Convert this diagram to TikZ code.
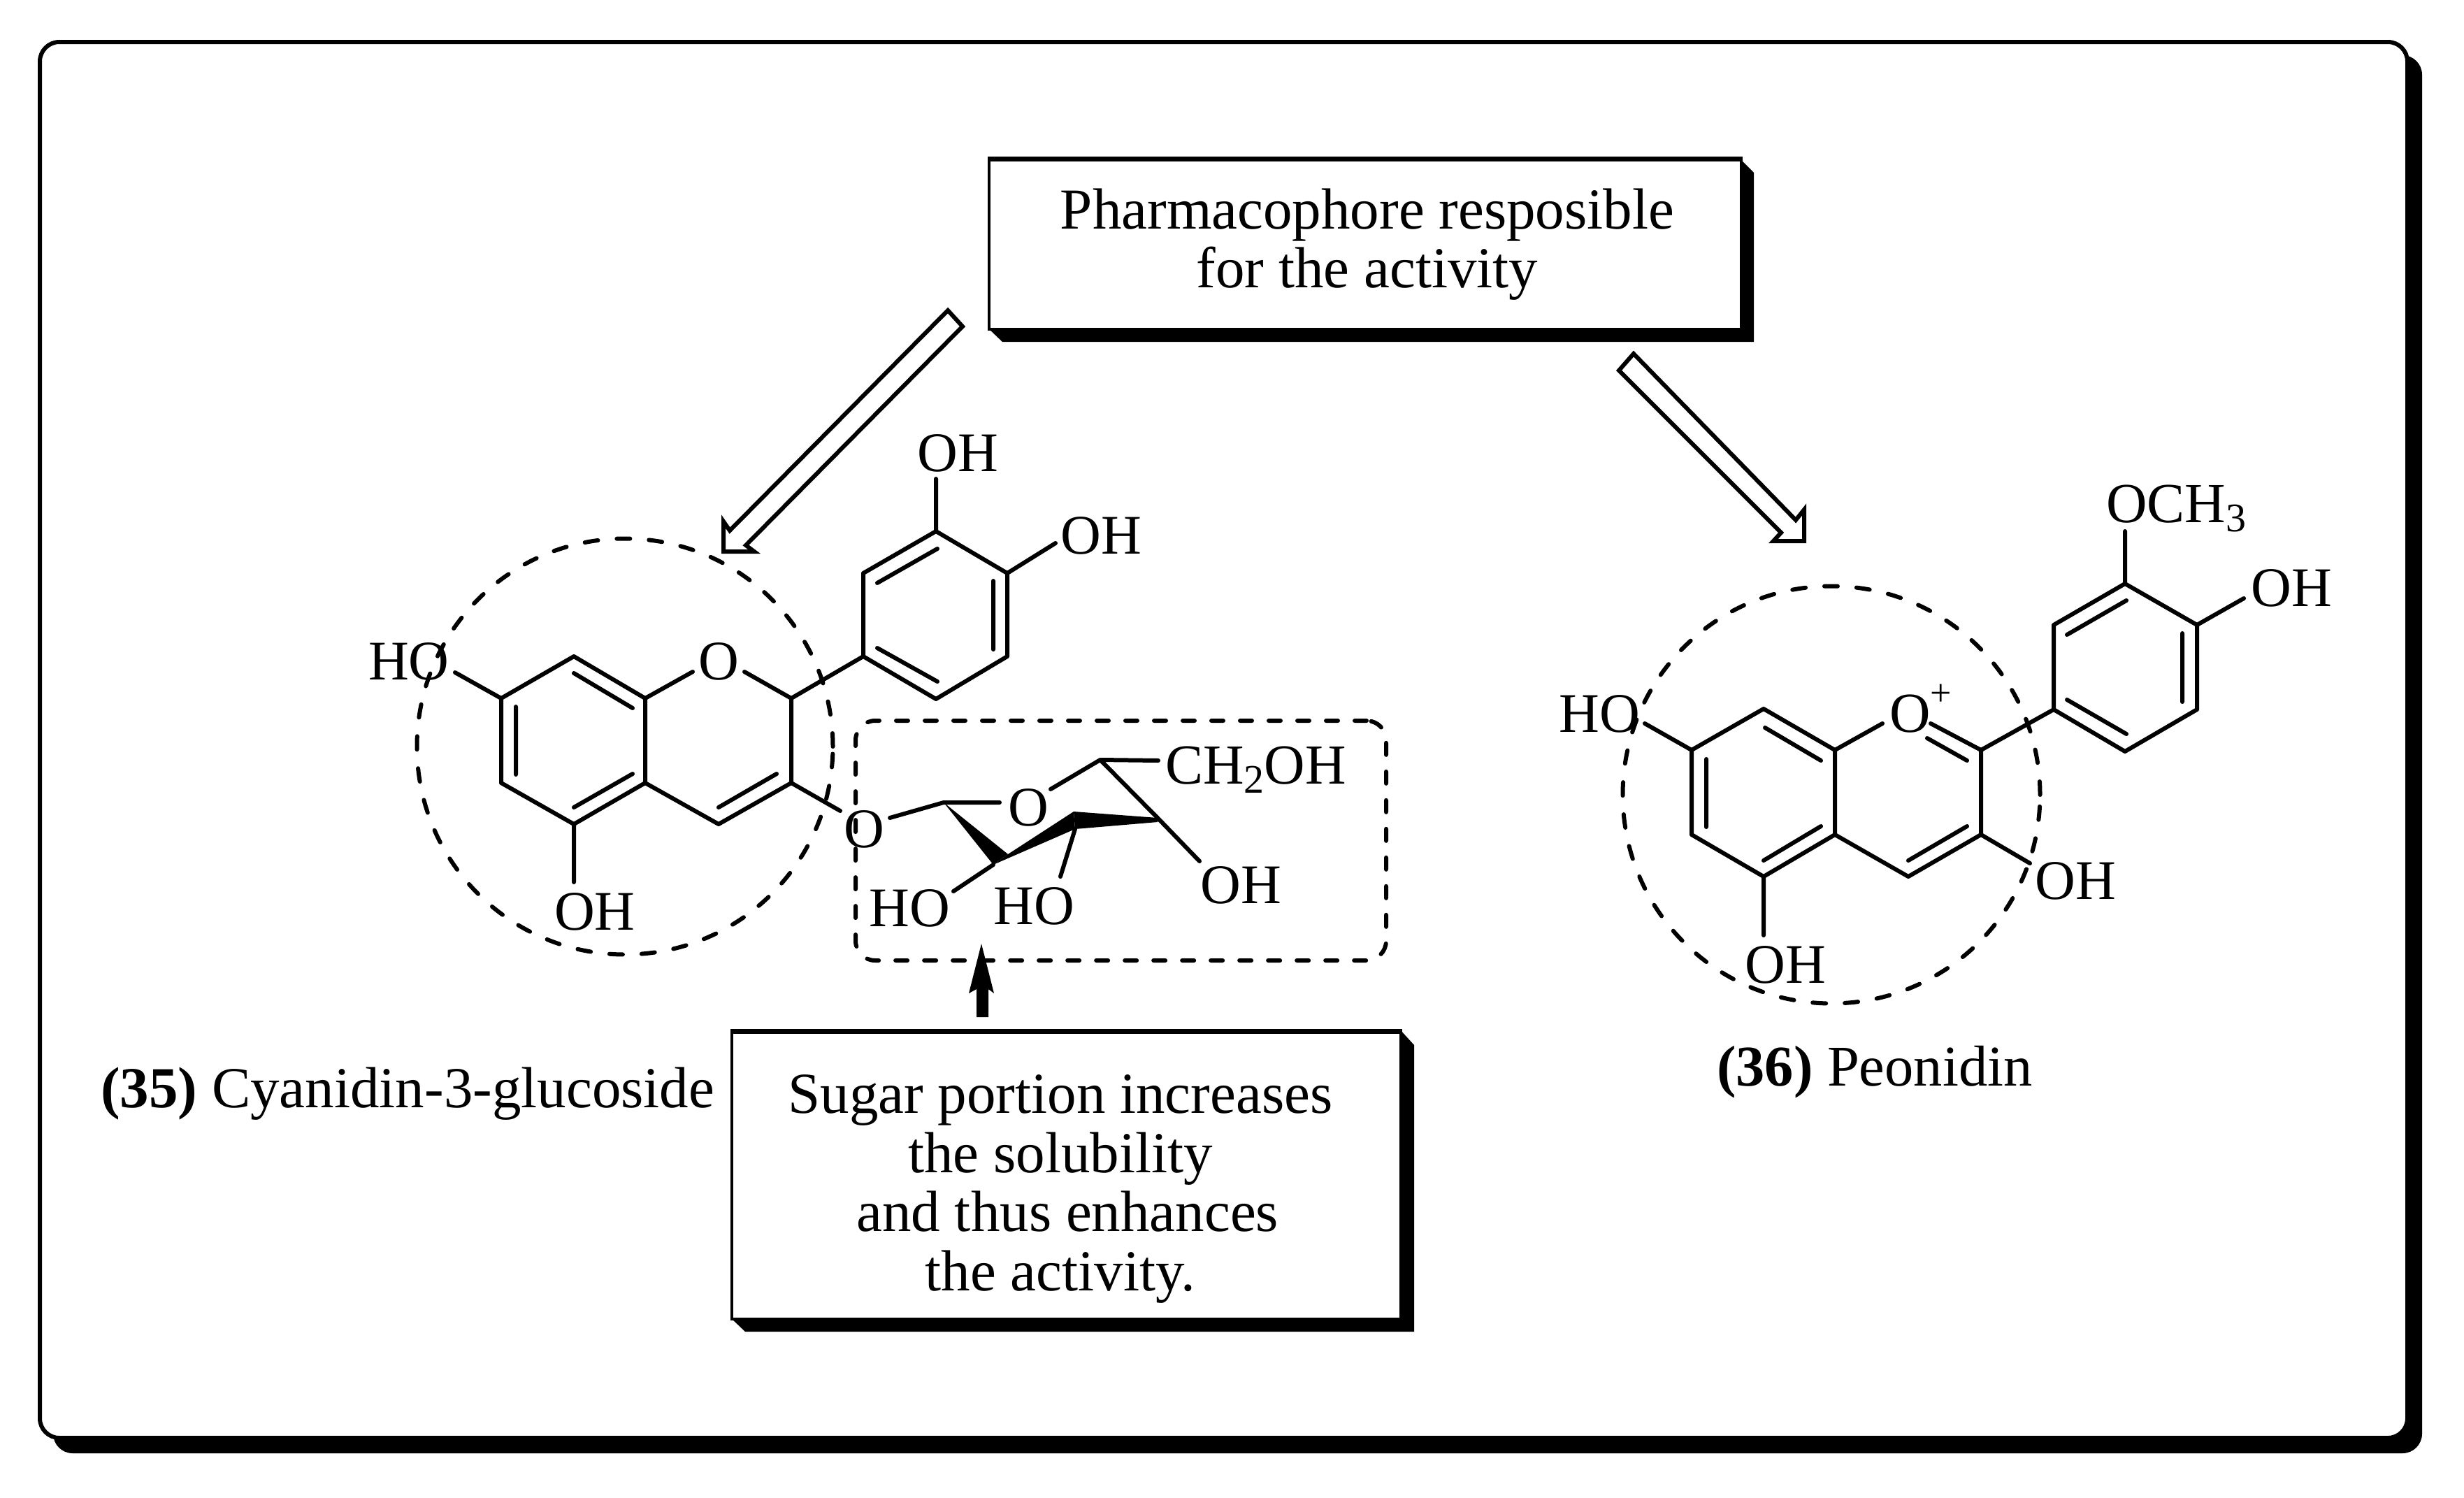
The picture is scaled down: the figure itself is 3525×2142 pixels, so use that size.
\documentclass[tikz,border=0pt]{standalone}
\usepackage{fontspec}
\setmainfont{Liberation Serif}
\newcommand{\lowsub}[1]{\raisebox{-13pt}{\fontsize{58}{58}\selectfont #1}}
\tikzset{
  x=1pt,y=-1pt,
  bond/.style={line width=6pt,line cap=round,line join=round},
  dashline/.style={line width=6pt,line cap=round,dash pattern=on 17pt off 24pt},
  dashring/.style={line width=6pt,line cap=round,dash pattern=on 19pt off 27pt},
  blockarrow/.style={draw,line width=6pt,fill=white,line join=miter,miter limit=8},
  atomlabel/.style={inner sep=0pt,outer sep=0pt,anchor=base,font=\fontsize{80}{84}\selectfont},
  grouplabel/.style={inner sep=0pt,outer sep=0pt,anchor=base west,font=\fontsize{81}{84}\selectfont},
  caption/.style={inner sep=0pt,outer sep=0pt,anchor=base west},
  calloutbox/.style={draw,line width=4pt,fill=white,inner sep=0pt,anchor=north west},
  callouttext/.style={inner sep=0pt,align=center},
}
\begin{document}
\begin{tikzpicture}
\useasboundingbox (0,0) rectangle (3525,2142);
\fill[white] (0,0) rectangle (3525,2142);
% outer frame with shadow
\fill[rounded corners=28pt] (76,79) rectangle (3465,2079);
\draw[line width=6pt,fill=white,rounded corners=28pt] (57,60) rectangle (3444,2057);

% --- pharmacophore callout
\fill (2486,224) -- (2509,247) -- (2509,489) -- (1434,489) -- (1413,469) -- cycle;
\node[calloutbox,minimum width=1076pt,minimum height=242pt] (pharmbox) at (1413,227) {};
\draw[line width=6pt] (pharmbox.north west) -- (pharmbox.north east);
\node[callouttext,font=\fontsize{83}{84}\selectfont] (pharmtext) at (1956,350) {Pharmacophore resposible\\for the activity};

% --- sugar callout
\fill (2002,1472) -- (2023,1495) -- (2023,1905) -- (1066,1905) -- (1045,1885) -- cycle;
\node[calloutbox,minimum width=957pt,minimum height=410pt] (sugarbox) at (1045,1475) {};
\draw[line width=6pt] (sugarbox.north west) -- (sugarbox.north east);
\node[callouttext,font=\fontsize{83}{84.5}\selectfont] (sugartext) at (1517,1701) {Sugar portion increases\\the solubility\\\ and thus enhances\\the activity.};

% --- block arrows
\draw[blockarrow] (1356,444) -- (1377,467) -- (1067,780) -- (1079,789) -- (1035,789) -- (1035,746) -- (1044,759) -- cycle;
\draw[blockarrow] (2337,506) -- (2316,530) -- (2548,762) -- (2537,774) -- (2581,774) -- (2581,729) -- (2569,744) -- cycle;

% --- solid arrow from sugar callout
\coordinate (tiparrow) at (1404,1350);
\fill (tiparrow) -- (1422,1421) -- (1414,1415) -- (1414,1455) -- (1397,1455) -- (1397,1415) -- (1386,1421) -- cycle;

% --- compound 35
\coordinate (a1) at (717,999);
\coordinate (a2) at (821,939);
\coordinate (a3) at (923,999);
\coordinate (a4) at (923,1120);
\coordinate (a5) at (821,1179);
\coordinate (a6) at (717,1120);
\coordinate (a7) at (1028,1179);
\coordinate (a8) at (1132,1120);
\coordinate (a9) at (1132,999);
\coordinate (p1) at (1235,939);
\coordinate (p2) at (1235,820);
\coordinate (p3) at (1339,760);
\coordinate (p4) at (1441,820);
\coordinate (p5) at (1441,939);
\coordinate (p6) at (1339,1000);
\node[atomlabel] (ao) at (1028,972) {O};
\node[atomlabel] (aoh1) at (1370,674) {OH};
\node[atomlabel] (aoh2) at (1575,792) {OH};
\node[atomlabel] (aho) at (585,972) {HO};
\node[atomlabel] (aoh3) at (851,1330) {OH};
\node[atomlabel] (aog) at (1236,1212) {O};
\coordinate (eoh1) at (1339,685);
\coordinate (eoh2) at (1510,777);
\coordinate (eho) at (651,962);
\coordinate (eoh3) at (821,1262);
\coordinate (eao1) at (991,961);
\coordinate (eao2) at (1065,961);
\coordinate (eog) at (1202,1160);
\draw[bond] (a1)--(a2) (a2)--(a3) (a3)--(a4) (a4)--(a5) (a5)--(a6) (a6)--(a1);
\draw[bond] (a4)--(a7) (a7)--(a8) (a8)--(a9) (a9)--(eao2) (a3)--(eao1);
\draw[bond] (a9)--(p1) (p1)--(p2) (p2)--(p3) (p3)--(p4) (p4)--(p5) (p5)--(p6) (p6)--(p1);
\draw[bond] (p3)--(eoh1) (p4)--(eoh2) (a1)--(eho) (a5)--(eoh3) (a8)--(eog);
\draw[bond] (738,1011)--(738,1108) (821,963)--(905,1013) (821,1155)--(905,1107) (1028,1155)--(1111,1107);
\draw[bond] (1255,834)--(1341,785) (1421,831)--(1421,929) (1255,927)--(1341,975);
\node[draw,dashring,circle,minimum size=595pt,inner sep=0pt] (circ35) at (894,1068) {};

% --- sugar
\node[draw,dashline,rounded corners=28pt,minimum width=759pt,minimum height=343pt,inner sep=0pt,anchor=north west] (sugarframe) at (1221,1028) {};
\coordinate (s1) at (1350,1148);
\coordinate (s2) at (1421,1237);
\coordinate (s2b) at (1442,1222);
\coordinate (s3) at (1538,1186);
\coordinate (s3b) at (1536,1161);
\coordinate (s4) at (1656,1176);
\coordinate (s4b) at (1656,1170);
\coordinate (s5) at (1574,1087);
\node[atomlabel] (so) at (1471,1181) {O};
\node[grouplabel] (sch) at (1667,1121) {CH\lowsub{2}OH};
\node[atomlabel] (sho1) at (1301,1325) {HO};
\node[atomlabel] (sho2) at (1479,1322) {HO};
\node[atomlabel] (soh) at (1775,1292) {OH};
\coordinate (es1) at (1273,1170);
\coordinate (es2) at (1430,1148);
\coordinate (es3) at (1503,1129);
\coordinate (es4) at (1657,1088);
\coordinate (es5) at (1716,1232);
\coordinate (es6) at (1364,1275);
\coordinate (es7) at (1517,1254);
\draw[bond] (es1)--(s1) (s1)--(es2) (es3)--(s5) (s5)--(es4) (s5)--(s4b) (s4b)--(es5) (s2)--(es6) (s3)--(es7);
\fill (s1) -- (s2) -- (s2b) -- cycle;
\fill (s2) -- (s2b) -- (s3b) -- (s3) -- cycle;
\fill (s3b) -- (s4b) -- (s4) -- (s3) -- cycle;

% --- compound 36
\coordinate (b1) at (2420,1073);
\coordinate (b2) at (2523,1014);
\coordinate (b3) at (2625,1073);
\coordinate (b4) at (2625,1194);
\coordinate (b5) at (2523,1254);
\coordinate (b6) at (2420,1194);
\coordinate (b7) at (2730,1254);
\coordinate (b8) at (2834,1194);
\coordinate (b9) at (2834,1073);
\coordinate (q1) at (2938,1015);
\coordinate (q2) at (2938,894);
\coordinate (q3) at (3040,835);
\coordinate (q4) at (3143,894);
\coordinate (q5) at (3143,1015);
\coordinate (q6) at (3040,1075);
\node[grouplabel] (bo) at (2703,1047) {O\raisebox{38pt}{\fontsize{54}{54}\selectfont +}};
\node[grouplabel] (boch) at (3013,747) {OCH\lowsub{3}};
\node[atomlabel] (boh1) at (3278,867) {OH};
\node[atomlabel] (bho) at (2288,1047) {HO};
\node[atomlabel] (boh2) at (2969,1286) {OH};
\node[atomlabel] (boh3) at (2554,1406) {OH};
\coordinate (eb1) at (3040,760);
\coordinate (eb2) at (3210,856);
\coordinate (eb3) at (2353,1035);
\coordinate (eb4) at (2904,1235);
\coordinate (eb5) at (2523,1338);
\coordinate (eb6) at (2693,1035);
\coordinate (eb7) at (2762,1035);
\draw[bond] (b1)--(b2) (b2)--(b3) (b3)--(b4) (b4)--(b5) (b5)--(b6) (b6)--(b1);
\draw[bond] (b4)--(b7) (b7)--(b8) (b8)--(b9) (b9)--(eb7) (b3)--(eb6);
\draw[bond] (b9)--(q1) (q1)--(q2) (q2)--(q3) (q3)--(q4) (q4)--(q5) (q5)--(q6) (q6)--(q1);
\draw[bond] (q3)--(eb1) (q4)--(eb2) (b1)--(eb3) (b8)--(eb4) (b5)--(eb5);
\draw[bond] (2441,1086)--(2441,1183) (2525,1041)--(2605,1088) (2523,1231)--(2605,1182) (2730,1231)--(2814,1182) (2757,1056)--(2814,1088);
\draw[bond] (2957,908)--(3042,859) (3122,906)--(3122,1004) (2957,1001)--(3042,1050);
\node[draw,dashring,circle,minimum size=597pt,inner sep=0pt] (circ36) at (2620,1137) {};

% --- captions
\node[caption,font=\fontsize{83}{84}\selectfont] (cap35) at (144,1584) {\textbf{(35)} Cyanidin-3-glucoside};
\node[caption,font=\fontsize{82.5}{84}\selectfont] (cap36) at (2456,1553) {\textbf{(36)} Peonidin};
\end{tikzpicture}
\end{document}
